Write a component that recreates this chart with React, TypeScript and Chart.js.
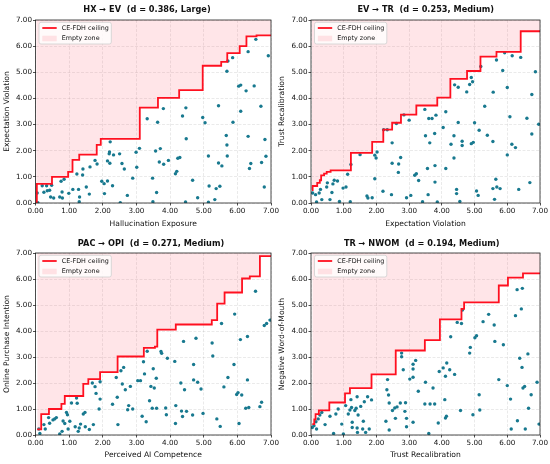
import React, { useEffect, useRef } from 'react';
import { Chart, registerables } from 'chart.js';

Chart.register(...registerables);

const FONT = "'DejaVu Sans', sans-serif";

const tickValues = [0, 1, 2, 3, 4, 5, 6, 7];

// HX -> EV
const hxEvPoints = [
  [0.05, 0.38], [0.07, 0.01], [0.2, 0.66], [0.33, 0.66], [0.25, 0.41], [0.35, 0.47], [0.42, 0.49], [0.48, 0.68],
  [0.45, 0.23], [0.54, 0.19], [0.72, 0.23], [0.79, 0.42], [0.76, 0.83], [0.85, 0.91], [0.8, 0.19], [0.99, 0.37],
  [1.11, 0.52], [1.23, 1.11], [1.28, 0.52], [1.31, 0.23], [1.3, 0.05], [1.41, 1.3], [1.4, 1.07], [1.51, 0.61],
  [1.62, 1.38], [1.6, 0.34], [1.77, 1.63], [1.83, 1.49], [1.97, 0.83], [2.04, 0.74], [2.05, 0.36], [2.14, 0.84],
  [2.14, 1.61], [2.19, 1.88], [2.2, 1.95], [2.22, 2.34], [2.21, 1.52], [2.32, 1.84], [2.29, 0.66], [2.5, 1.88],
  [2.52, 0.01], [2.57, 1.51], [2.64, 1.3], [2.73, 0.29], [2.89, 0.95], [2.99, 1.94], [3.01, 1.37], [3.09, 2.09],
  [3.32, 3.22], [3.48, 0.95], [3.49, 0.05], [3.57, 1.99], [3.6, 0.4], [3.63, 3.09], [3.68, 1.57], [3.71, 2.08],
  [3.8, 3.61], [3.81, 1.48], [3.95, 1.63], [4.16, 1.12], [4.2, 1.21], [4.23, 1.71], [4.29, 1.74], [4.37, 3.33],
  [4.47, 3.64], [4.48, 2.46], [4.46, 0.04], [4.67, 0.87], [4.82, 0.2], [4.97, 3.27], [5.04, 3.07], [5.14, 1.8],
  [5.16, 0.65], [5.14, 0.03], [5.33, 0.13], [5.37, 0.55], [5.44, 1.53], [5.44, 3.72], [5.48, 0.64], [5.54, 1.42],
  [5.67, 2.58], [5.69, 2.22], [5.69, 5.04], [5.72, 5.43], [5.7, 1.8], [5.86, 5.56], [5.87, 3.09], [6.04, 4.47],
  [6.1, 4.51], [6.1, 3.51], [6.26, 4.29], [6.32, 2.55], [6.32, 5.79], [6.36, 1.32], [6.4, 1.51], [6.5, 4.48],
  [6.55, 6.26], [6.7, 3.7], [6.72, 1.55], [6.8, 0.61], [6.82, 2.43], [6.85, 1.79], [6.92, 5.63],
];
const hxEvCeiling = [
  [0.02, 0], [0.04, 0.73], [0.49, 1.0], [0.97, 1.19], [1.1, 1.65], [1.3, 1.85], [1.82, 2.22], [1.94, 2.45],
  [3.1, 3.65], [3.64, 4.02], [4.27, 4.32], [4.97, 5.25], [5.52, 5.4], [5.7, 5.73], [6.07, 6.0], [6.27, 6.37],
  [6.57, 6.41], [7.0, 6.41],
];

// EV -> TR
const evTrPoints = [
  [0.05, 0.38], [0.14, 0.32], [0.17, 0.04], [0.25, 0.38], [0.29, 0.52], [0.33, 0.13], [0.48, 0.61], [0.5, 0.77],
  [0.58, 0.13], [0.64, 0.4], [0.67, 0.73], [0.71, 0.87], [0.81, 0.84], [0.87, 0.06], [0.98, 0.57], [1.07, 0.61],
  [1.12, 1.1], [1.2, 0.05], [1.22, 1.47], [1.5, 1.85], [1.71, 0.27], [1.74, 0.19], [1.87, 0.2], [1.95, 0.93],
  [1.95, 1.83], [1.99, 1.72], [2.02, 1.95], [2.2, 0.45], [2.22, 2.8], [2.33, 2.8], [2.48, 2.3], [2.46, 0.32],
  [2.48, 1.52], [2.61, 3.04], [2.68, 1.49], [2.67, 1.17], [2.74, 1.74], [2.84, 3.37], [2.92, 0.2], [3.0, 3.17],
  [3.05, 0.29], [3.17, 1.06], [3.22, 1.12], [3.29, 0.86], [3.41, 0.05], [3.48, 3.58], [3.5, 2.57], [3.56, 1.32],
  [3.58, 0.32], [3.6, 3.23], [3.63, 2.3], [3.7, 3.23], [3.78, 2.66], [3.79, 1.43], [3.79, 0.8], [3.82, 3.36],
  [3.86, 0.04], [4.04, 2.89], [4.12, 1.32], [4.12, 3.49], [4.28, 2.25], [4.37, 1.72], [4.37, 2.57], [4.39, 4.52],
  [4.45, 0.36], [4.45, 0.52], [4.5, 4.43], [4.5, 3.08], [4.55, 0.06], [4.62, 2.36], [4.62, 2.2], [4.76, 4.25],
  [4.85, 4.53], [4.9, 4.8], [4.9, 2.27], [4.94, 4.64], [4.96, 2.32], [5.0, 3.07], [5.06, 0.46], [5.11, 0.29],
  [5.14, 2.78], [5.19, 5.22], [5.31, 3.7], [5.39, 2.59], [5.56, 2.35], [5.56, 0.55], [5.57, 4.24], [5.61, 0.14],
  [5.65, 0.91], [5.67, 5.47], [5.68, 0.61], [5.78, 0.55], [5.86, 5.07], [5.92, 5.75], [6.0, 1.84], [6.0, 4.42],
  [6.08, 3.3], [6.14, 2.25], [6.15, 5.63], [6.25, 2.12], [6.35, 0.52], [6.41, 5.57], [6.6, 3.24], [6.69, 0.78],
  [6.75, 4.15], [6.75, 2.64], [6.86, 5.02], [6.96, 3.01],
];
const evTrCeiling = [
  [0.03, 0.49], [0.05, 0.65], [0.19, 0.77], [0.27, 0.87], [0.31, 1.06], [0.4, 1.12], [0.48, 1.19], [0.6, 1.25],
  [1.22, 1.92], [1.87, 2.34], [2.21, 2.81], [2.48, 3.07], [2.75, 3.38], [3.22, 3.73], [3.86, 4.03], [4.26, 4.75],
  [4.77, 5.05], [5.18, 5.6], [5.67, 5.78], [6.41, 6.57], [7.0, 6.57],
];

// PAC -> OPI
const pacOpiPoints = [
  [0.1, 0.23], [0.13, 0.06], [0.25, 0.4], [0.29, 0.23], [0.39, 0.67], [0.42, 0.45], [0.52, 0.58], [0.57, 0.62],
  [0.62, 0.67], [0.72, 0.04], [0.79, 0.14], [0.82, 0.54], [0.87, 0.44], [0.92, 0.87], [0.95, 0.78], [0.97, 0.23],
  [1.02, 0.53], [1.07, 1.23], [1.18, 0.32], [1.22, 1.42], [1.24, 1.22], [1.27, 0.14], [1.3, 0.27], [1.34, 0.42],
  [1.42, 0.81], [1.47, 0.87], [1.48, 0.32], [1.6, 0.21], [1.72, 0.4], [1.69, 2.0], [1.77, 1.86], [1.8, 1.6],
  [1.89, 1.0], [1.92, 1.38], [1.92, 2.05], [2.29, 1.18], [2.4, 2.21], [2.43, 1.45], [2.45, 0.4], [2.54, 2.47],
  [2.58, 1.96], [2.62, 2.6], [2.67, 1.74], [2.74, 0.97], [2.77, 1.13], [2.82, 1.87], [2.89, 1.0], [3.04, 2.09],
  [3.12, 2.09], [3.17, 0.72], [3.21, 2.82], [3.24, 2.35], [3.29, 0.51], [3.32, 3.22], [3.39, 1.32], [3.43, 1.87],
  [3.47, 1.03], [3.5, 2.55], [3.53, 1.81], [3.59, 2.18], [3.6, 1.03], [3.73, 3.21], [3.75, 3.14], [3.87, 1.04],
  [3.89, 0.78], [3.92, 2.95], [4.14, 2.83], [4.17, 1.13], [4.16, 0.44], [4.32, 2.0], [4.34, 0.92], [4.37, 0.71],
  [4.4, 3.6], [4.43, 1.74], [4.49, 0.91], [4.67, 0.77], [4.7, 2.71], [4.7, 2.12], [4.77, 3.72], [4.82, 2.03],
  [4.92, 1.77], [4.98, 0.83], [5.25, 3.54], [5.27, 3.04], [5.39, 0.62], [5.49, 0.33], [5.53, 4.29], [5.6, 1.85],
  [5.72, 2.21], [5.9, 2.71], [5.92, 4.65], [5.98, 1.56], [6.02, 1.63], [6.05, 0.44], [6.09, 3.67], [6.13, 1.54],
  [6.25, 1.03], [6.3, 3.79], [6.3, 2.12], [6.34, 1.06], [6.54, 5.53], [6.67, 1.09], [6.72, 1.26], [6.8, 4.21],
  [6.87, 4.29], [6.97, 4.42],
];
const pacOpiCeiling = [
  [0.05, 0.22], [0.17, 0.8], [0.4, 1.0], [0.77, 1.2], [0.87, 1.5], [1.42, 1.97], [1.57, 2.15], [1.92, 2.42],
  [2.44, 3.02], [3.22, 3.35], [3.55, 3.4], [3.62, 4.05], [4.17, 4.25], [5.24, 4.42], [5.4, 5.05], [5.62, 5.48],
  [6.14, 6.02], [6.37, 6.1], [6.67, 6.88], [7.0, 6.88],
];

// TR -> NWOM
const trNwomPoints = [
  [0.04, 0.29], [0.09, 0.36], [0.17, 0.23], [0.15, 0.51], [0.22, 0.62], [0.27, 0.77], [0.33, 0.87], [0.43, 0.4],
  [0.58, 0.72], [0.69, 0.06], [0.76, 0.81], [0.83, 1.0], [0.94, 0.42], [0.99, 0.04], [1.06, 1.13], [1.14, 0.81],
  [1.19, 0.96], [1.22, 1.36], [1.24, 1.06], [1.26, 0.49], [1.26, 0.29], [1.34, 0.94], [1.38, 1.03], [1.41, 1.47],
  [1.41, 0.27], [1.44, 0.77], [1.42, 0.1], [1.52, 1.1], [1.58, 0.23], [1.6, 0.53], [1.63, 1.28], [1.67, 0.1],
  [1.73, 1.47], [1.78, 0.23], [1.85, 1.35], [2.29, 0.53], [2.32, 1.74], [2.34, 2.13], [2.37, 1.54], [2.39, 1.23],
  [2.39, 0.19], [2.49, 0.94], [2.56, 1.04], [2.58, 0.64], [2.63, 1.08], [2.73, 1.23], [2.77, 3.01], [2.77, 3.15],
  [2.82, 2.51], [2.87, 0.91], [2.89, 1.24], [2.92, 0.64], [2.92, 0.32], [3.02, 2.15], [3.12, 2.22], [3.12, 2.54],
  [3.12, 2.72], [3.12, 0.49], [3.2, 2.87], [3.28, 1.68], [3.48, 1.19], [3.5, 2.03], [3.6, 0.06], [3.64, 1.19],
  [3.73, 1.81], [3.78, 1.19], [3.89, 0.46], [3.92, 2.44], [4.04, 2.58], [4.09, 1.36], [4.11, 2.26], [4.11, 0.65],
  [4.14, 0.72], [4.15, 2.77], [4.24, 2.51], [4.27, 3.78], [4.39, 2.33], [4.47, 4.33], [4.57, 0.94], [4.6, 4.29],
  [4.63, 4.81], [4.85, 3.15], [4.87, 3.37], [4.95, 0.78], [5.01, 3.74], [5.06, 3.82], [5.14, 1.55], [5.16, 0.96],
  [5.26, 4.36], [5.43, 4.64], [5.6, 4.23], [5.62, 3.6], [5.74, 2.13], [5.88, 3.47], [6.0, 1.9], [6.1, 1.38],
  [6.12, 0.23], [6.25, 4.59], [6.3, 5.59], [6.31, 0.55], [6.38, 2.95], [6.43, 4.85], [6.45, 2.6], [6.46, 5.64],
  [6.48, 1.81], [6.53, 1.87], [6.55, 0.23], [6.63, 3.12], [6.65, 1.03], [6.73, 1.55], [6.91, 2.03], [6.97, 0.42],
];
const trNwomCeiling = [
  [0.04, 0.42], [0.1, 0.6], [0.14, 0.8], [0.24, 0.95], [0.56, 1.25], [1.04, 1.6], [1.19, 1.8], [1.85, 2.33],
  [2.59, 3.25], [3.48, 3.65], [3.94, 4.45], [4.6, 4.85], [4.68, 5.1], [5.74, 5.75], [6.02, 6.05], [6.48, 6.22],
  [7.0, 6.22],
];

const panelTitles = [
  'HX \u2192 EV  (d = 0.386, Large)',
  'EV \u2192 TR  (d = 0.253, Medium)',
  'PAC \u2192 OPI  (d = 0.271, Medium)',
  'TR \u2192 NWOM  (d = 0.194, Medium)',
];
const xLabels = ['Hallucination Exposure', 'Expectation Violation', 'Perceived AI Competence', 'Trust Recalibration'];
const yLabels = ['Expectation Violation', 'Trust Recalibration', 'Online Purchase Intention', 'Negative Word-of-Mouth'];
const pointSets = [hxEvPoints, evTrPoints, pacOpiPoints, trNwomPoints];
const ceilingSets = [hxEvCeiling, evTrCeiling, pacOpiCeiling, trNwomCeiling];

// placement of each panel in the 550x464 figure
const layouts = [
  { ox: 0, oy: 0, left: 35.5, right: 271, top: 20, bottom: 203, titleX: 147, titleY: 9.5, xPad: 3.4 },
  { ox: 275, oy: 0, left: 36, right: 265, top: 20, bottom: 203, titleX: 150.7, titleY: 9.5, xPad: 3.4 },
  { ox: 0, oy: 232, left: 35.5, right: 271, top: 21, bottom: 203, titleX: 151, titleY: 11.5, xPad: 4.4 },
  { ox: 275, oy: 232, left: 36, right: 265, top: 21, bottom: 203, titleX: 146.7, titleY: 11.5, xPad: 4.4 },
];

const PANEL_H = 232;
const RED = '#ff1020';
const PINK = 'rgba(255, 0, 25, 0.1)';
const TEAL = '#18798f';

// spines, in-axes legend box and panel title
const decorPlugin = {
  id: 'panelDecor',
  afterDatasetsDraw(chart: any, _args: any, opts: any) {
    const { ctx, chartArea: a } = chart;
    const lineDs = chart.data.datasets[0];
    const zoneDs = chart.data.datasets[1];
    ctx.save();
    ctx.strokeStyle = '#222';
    ctx.lineWidth = 0.8;
    ctx.strokeRect(a.left, a.top, a.right - a.left, a.bottom - a.top);

    ctx.font = `6.4px ${FONT}`;
    const tw = Math.max(ctx.measureText(lineDs.label).width, ctx.measureText(zoneDs.label).width);
    const bx = a.left + 3.5;
    const by = a.top + 2.3;
    ctx.beginPath();
    ctx.roundRect(bx, by, 22.7 + tw + 2.5, 21.7, 2);
    ctx.fillStyle = 'rgba(255,255,255,0.8)';
    ctx.fill();
    ctx.strokeStyle = '#cfcfcf';
    ctx.lineWidth = 0.8;
    ctx.stroke();

    ctx.beginPath();
    ctx.moveTo(a.left + 6.8, a.top + 8);
    ctx.lineTo(a.left + 21.2, a.top + 8);
    ctx.strokeStyle = lineDs.borderColor;
    ctx.lineWidth = 1.8;
    ctx.stroke();
    ctx.fillStyle = zoneDs.backgroundColor;
    ctx.fillRect(a.left + 6.8, a.top + 15.7, 14.4, 5.6);

    ctx.fillStyle = '#111';
    ctx.textBaseline = 'middle';
    ctx.textAlign = 'left';
    ctx.fillText(lineDs.label, a.left + 26.2, a.top + 8);
    ctx.fillText(zoneDs.label, a.left + 26.2, a.top + 18.7);

    ctx.font = `bold 8.2px ${FONT}`;
    ctx.textAlign = 'center';
    ctx.fillText(opts.text, opts.x, opts.y);
    ctx.restore();
  },
};

const axis = (label: string, titlePadding: any, fit: (s: any) => void) => ({
  type: 'linear',
  min: 0,
  max: 7,
  afterBuildTicks: (s: any) => {
    s.ticks = tickValues.map((v) => ({ value: v }));
  },
  afterFit: fit,
  ticks: {
    callback: (v: any) => Number(v).toFixed(2),
    font: { family: FONT, size: 7.2 },
    color: '#111',
    padding: 1,
    maxRotation: 0,
    autoSkip: false,
  },
  grid: {
    color: 'rgba(0,0,0,0.12)',
    lineWidth: 0.7,
    tickLength: 2.5,
    tickColor: '#222',
    tickWidth: 0.8,
    tickBorderDash: [],
  },
  border: { display: false, dash: [3, 1.5] },
  title: { display: true, text: label, font: { family: FONT, size: 7.6 }, color: '#111', padding: titlePadding },
});

function Panel({ index }: { index: number }) {
  const canvasRef = useRef<HTMLCanvasElement>(null);
  const lay = layouts[index];
  const width = lay.right + 10;

  useEffect(() => {
    if (!canvasRef.current) return;
    const ceiling = ceilingSets[index].map(([x, y]) => ({ x, y }));
    const chart = new Chart(canvasRef.current, {
      type: 'scatter',
      data: {
        datasets: [
          {
            type: 'line',
            label: 'CE-FDH ceiling',
            data: ceiling,
            stepped: 'before',
            borderColor: RED,
            borderWidth: 1.8,
            pointRadius: 0,
            fill: false,
          },
          {
            type: 'line',
            label: 'Empty zone',
            data: ceiling,
            stepped: 'before',
            borderWidth: 0,
            borderColor: 'rgba(0,0,0,0)',
            backgroundColor: PINK,
            pointRadius: 0,
            fill: 'end',
          },
          {
            label: 'observations',
            data: pointSets[index].map(([x, y]) => ({ x, y })),
            backgroundColor: TEAL,
            borderWidth: 0,
            pointRadius: 1.7,
          },
        ],
      } as any,
      options: {
        responsive: false,
        animation: false,
        layout: { padding: { left: 0, right: width - lay.right, top: lay.top, bottom: 0 } },
        scales: {
          x: axis(xLabels[index], { top: 0, bottom: lay.xPad }, (s: any) => {
            s.height = PANEL_H - lay.bottom;
          }),
          y: axis(yLabels[index], { top: 2.7, bottom: 0 }, (s: any) => {
            s.width = lay.left;
          }),
        },
        plugins: {
          legend: { display: false },
          tooltip: { enabled: false },
          panelDecor: { text: panelTitles[index], x: lay.titleX, y: lay.titleY },
        },
      } as any,
      plugins: [decorPlugin as any],
    });
    return () => chart.destroy();
  }, [index]);

  return (
    <canvas
      ref={canvasRef}
      width={width}
      height={PANEL_H}
      style={{ position: 'absolute', left: lay.ox, top: lay.oy, width, height: PANEL_H }}
    />
  );
}

export default function App() {
  return (
    <div style={{ position: 'absolute', left: 0, top: 0, width: 550, height: 464, background: '#fff', overflow: 'hidden' }}>
      {[0, 1, 2, 3].map((i) => (
        <Panel key={i} index={i} />
      ))}
    </div>
  );
}
